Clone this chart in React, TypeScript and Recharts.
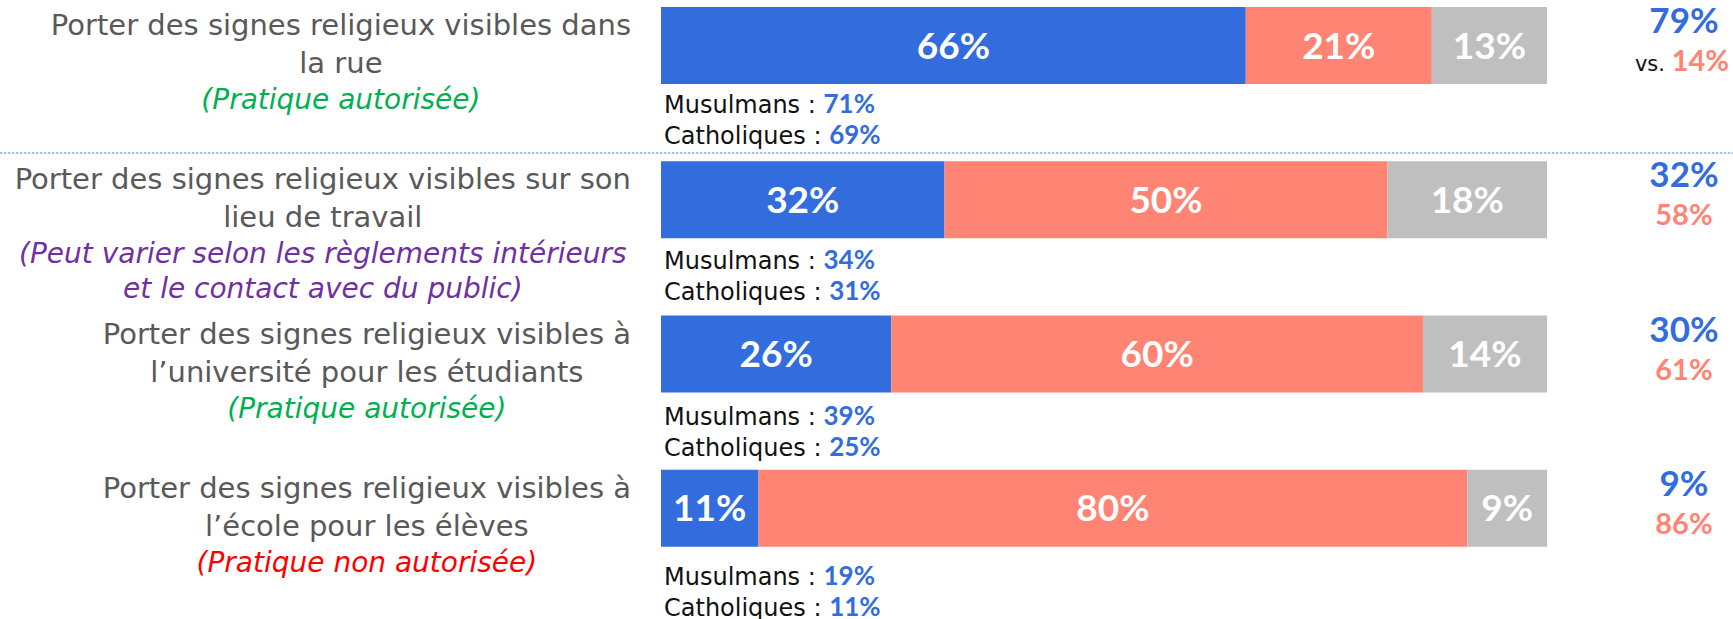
import React from "react";
import { Bar, BarChart, LabelList, XAxis, YAxis } from "recharts";

// one row per practice, top to bottom
const items = ["rue", "travail", "universite", "ecole"];
const labelLines = [
  ["Porter des signes religieux visibles dans", "la rue"],
  ["Porter des signes religieux visibles sur son", "lieu de travail"],
  ["Porter des signes religieux visibles à", "l’université pour les étudiants"],
  ["Porter des signes religieux visibles à", "l’école pour les élèves"],
];
const noteLines = [
  ["(Pratique autorisée)"],
  ["(Peut varier selon les règlements intérieurs", "et le contact avec du public)"],
  ["(Pratique autorisée)"],
  ["(Pratique non autorisée)"],
];
const noteKinds = ["allowed", "varies", "allowed", "forbidden"];

// stacked shares (%)
const favorable = [66, 32, 26, 11];
const opposed = [21, 50, 60, 80];
const noOpinion = [13, 18, 14, 9];

// favorable share by religion (%)
const muslims = [71, 34, 39, 19];
const catholics = [69, 31, 25, 11];

// totals shown on the right (%)
const totalFavorable = [79, 32, 30, 9];
const totalOpposed = [14, 58, 61, 86];

const data = items.map((item, i) => ({
  item,
  favorable: favorable[i],
  opposed: opposed[i],
  noOpinion: noOpinion[i],
}));

const BLUE = "#336ddd";
const SALMON = "#ff8474";
const GREY = "#bfbfbf";
const NOTE_COLORS: Record<string, string> = {
  allowed: "#00b050",
  varies: "#7030a0",
  forbidden: "#ff0000",
};
const TEXT_FONT = "'DejaVu Sans', sans-serif";
const NUM_FONT = "Lato, 'DejaVu Sans', sans-serif";

const LEFT = 661;
const BAR_H = 77;
// distance from bar bottom to the "Musulmans" baseline, per row
const subOffset = [29, 31, 32, 38];

function ItemTick(props: any) {
  const { y, index } = props;
  const i = typeof index === "number" ? index : items.indexOf(props.payload?.value);
  if (i < 0) return null;
  return (
    <g>
      <foreignObject x={0} y={y - BAR_H - 1} width={631} height={170}>
        <div style={{ display: "flex", justifyContent: "flex-end", width: "100%" }}>
          <div style={{ textAlign: "center", whiteSpace: "nowrap", fontFamily: TEXT_FONT }}>
            {labelLines[i].map((l) => (
              <div key={l} style={{ fontSize: 29, lineHeight: "38px", color: "#595959" }}>
                {l}
              </div>
            ))}
            {noteLines[i].map((l) => (
              <div
                key={l}
                style={{
                  fontSize: 28,
                  lineHeight: "35px",
                  fontStyle: "italic",
                  color: NOTE_COLORS[noteKinds[i]],
                }}
              >
                {l}
              </div>
            ))}
          </div>
        </div>
      </foreignObject>
    </g>
  );
}

function box(props: any) {
  const vb = props.viewBox ?? {};
  return {
    x: props.x ?? vb.x,
    y: props.y ?? vb.y,
    width: props.width ?? vb.width,
    height: props.height ?? vb.height,
  };
}

function ReligionLabels(props: any) {
  const i = props.index;
  if (typeof i !== "number") return null;
  const { x, y, height } = box(props);
  const base = y + height + subOffset[i];
  const numStyle = { fontFamily: NUM_FONT, fontWeight: 700 } as const;
  return (
    <g fontFamily={TEXT_FONT} fontSize={24} fill="#111">
      <text x={x + 3} y={base}>
        Musulmans :{" "}
        <tspan {...numStyle} fontSize={26} fill={BLUE}>
          {muslims[i]}%
        </tspan>
      </text>
      <text x={x + 3} y={base + 31}>
        Catholiques :{" "}
        <tspan {...numStyle} fontSize={26} fill={BLUE}>
          {catholics[i]}%
        </tspan>
      </text>
    </g>
  );
}

function TotalLabels(props: any) {
  const i = props.index;
  if (typeof i !== "number") return null;
  const { x, y, width } = box(props);
  const cx = x + width + 137;
  return (
    <g fontFamily={NUM_FONT} fontWeight={700} textAnchor="middle">
      <text x={cx} y={y + 26} fontSize={35} fill={BLUE}>
        {totalFavorable[i]}%
      </text>
      {i === 0 ? (
        <text x={cx - 2} y={y + 64} fontSize={29} fill={SALMON}>
          <tspan fontFamily={TEXT_FONT} fontWeight={400} fontSize={21} fill="#111">
            vs.{" "}
          </tspan>
          {totalOpposed[i]}%
        </text>
      ) : (
        <text x={cx} y={y + 64} fontSize={29} fill={SALMON}>
          {totalOpposed[i]}%
        </text>
      )}
    </g>
  );
}

const pct = (v: any) => `${v}%`;
const segLabel = {
  position: "center" as const,
  fill: "#ffffff",
  fontFamily: NUM_FONT,
  fontWeight: 700,
  fontSize: 37,
  formatter: pct,
};

export default function App() {
  return (
    <div
      style={{
        position: "absolute",
        left: 0,
        top: 0,
        width: 1733,
        height: 619,
        overflow: "hidden",
        background: "#ffffff",
      }}
    >
      <svg
        width={1733}
        height={4}
        style={{ position: "absolute", left: 0, top: 151 }}
      >
        <line x1={0} y1={2} x2={1733} y2={2} stroke="#8faadc" strokeWidth={1.5} strokeDasharray="2.5 1.5" />
      </svg>
      <BarChart
        width={1733}
        height={624}
        data={data}
        layout="vertical"
        margin={{ top: 7, right: 186, left: 0, bottom: 0 }}
        barCategoryGap={0}
        barGap={0}
      >
        <XAxis type="number" domain={[0, 100]} hide />
        <YAxis
          type="category"
          dataKey="item"
          width={LEFT}
          axisLine={false}
          tickLine={false}
          tick={<ItemTick />}
          interval={0}
        />
        <Bar dataKey="favorable" stackId="a" fill={BLUE} isAnimationActive={false}>
          <LabelList dataKey="favorable" {...segLabel} />
          <LabelList dataKey="favorable" content={<ReligionLabels />} />
        </Bar>
        <Bar dataKey="opposed" stackId="a" fill={SALMON} isAnimationActive={false}>
          <LabelList dataKey="opposed" {...segLabel} />
        </Bar>
        <Bar dataKey="noOpinion" stackId="a" fill={GREY} isAnimationActive={false}>
          <LabelList dataKey="noOpinion" {...segLabel} />
          <LabelList dataKey="noOpinion" content={<TotalLabels />} />
        </Bar>
        {/* empty second group keeps each bar in the top half of its band */}
        <Bar dataKey={() => 0} stackId="spacer" fill="none" isAnimationActive={false} />
      </BarChart>
    </div>
  );
}
